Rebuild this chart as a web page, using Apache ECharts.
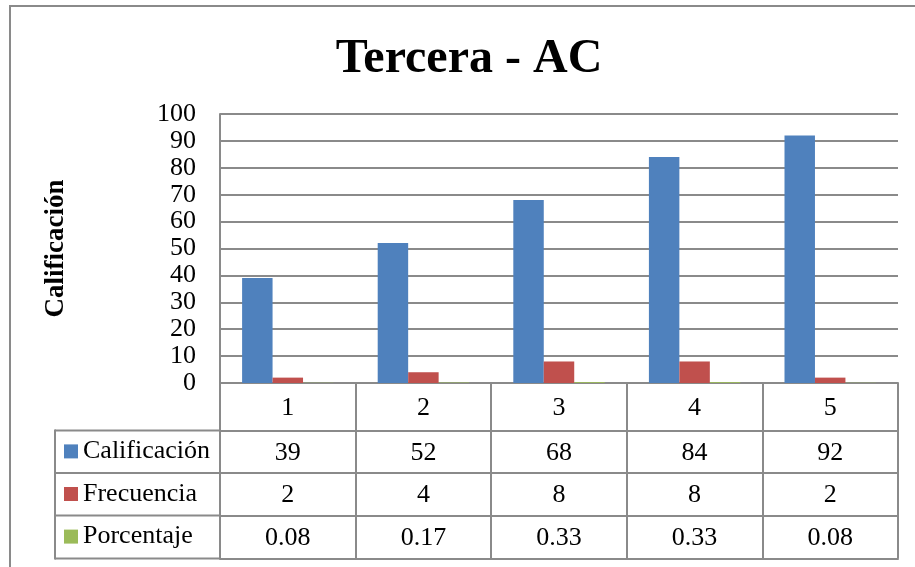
<!DOCTYPE html>
<html>
<head>
<meta charset="utf-8">
<title>Tercera - AC</title>
<script src="https://cdn.jsdelivr.net/npm/echarts@6/dist/echarts.min.js"></script>
<style>
  html, body { margin: 0; padding: 0; background: #ffffff; }
  #chart { width: 915px; height: 567px; }
</style>
</head>
<body>
<div id="chart"></div>
<script>
// Categories and series values
const categories = ['1', '2', '3', '4', '5'];
const calificacion = [39, 52, 68, 84, 92];
const frecuencia = [2, 4, 8, 8, 2];
const porcentaje = [0.08, 0.17, 0.33, 0.33, 0.08];
const seriesNames = ['Calificación', 'Frecuencia', 'Porcentaje'];

// Value axis range
const yMin = 0;
const yMax = 100;
const yStep = 10;

const FONT = 'Liberation Serif';
const GRAY = '#8a8a8a';
const COLORS = ['#4f81bd', '#c0504d', '#9bbb59'];

// Data-table geometry (below the plot area)
const gridLeft = 220, gridTop = 114, gridWidth = 678, gridHeight = 269;
const headerRow = 47.4;
const rowHeights = [42.6, 42.4, 43.0];
const tableLeft = 55;

const chart = echarts.init(document.getElementById('chart'), null, { renderer: 'canvas' });

// One category axis per data-table row: its line is the row's top border,
// its ticks the vertical cell borders and its labels the cell values.
function tableAxis(data, offset, rowH, showLabel) {
  return {
    type: 'category',
    position: 'bottom',
    gridIndex: 0,
    offset: offset,
    data: data,
    boundaryGap: true,
    axisLine: { show: true, onZero: false, lineStyle: { color: GRAY, width: 2 } },
    axisTick: { show: rowH > 0, interval: 0, length: rowH, inside: false,
                lineStyle: { color: GRAY, width: 2 } },
    axisLabel: { show: showLabel, interval: 0, margin: (rowH - 26) / 2 + 1,
                 fontFamily: FONT, fontSize: 26, color: '#000' },
    splitLine: { show: false }
  };
}

const offsets = [0];
offsets.push(headerRow);
offsets.push(headerRow + rowHeights[0]);
offsets.push(headerRow + rowHeights[0] + rowHeights[1]);
offsets.push(headerRow + rowHeights[0] + rowHeights[1] + rowHeights[2]);

const xAxes = [
  tableAxis(categories, offsets[0], headerRow, true),
  tableAxis(calificacion.map(String), offsets[1], rowHeights[0], true),
  tableAxis(frecuencia.map(String), offsets[2], rowHeights[1], true),
  tableAxis(porcentaje.map(String), offsets[3], rowHeights[2], true),
  tableAxis(categories.map(() => ''), offsets[4], 0, false)
];

// Left column of the data table (legend keys) borders
const tableTopY = gridTop + gridHeight + headerRow;
const leftLines = [];
for (let i = 1; i < offsets.length; i++) {
  const y = gridTop + gridHeight + offsets[i];
  leftLines.push({
    type: 'line',
    shape: { x1: tableLeft, y1: y, x2: gridLeft, y2: y },
    style: { stroke: GRAY, lineWidth: 2 }
  });
}
leftLines.push({
  type: 'line',
  shape: { x1: tableLeft, y1: tableTopY - 1, x2: tableLeft, y2: gridTop + gridHeight + offsets[4] + 1 },
  style: { stroke: GRAY, lineWidth: 2 }
});

// Chart-area frame (top and left edges)
const frame = [
  { type: 'line', shape: { x1: 10, y1: 6, x2: 915, y2: 6 }, style: { stroke: GRAY, lineWidth: 2 } },
  { type: 'line', shape: { x1: 10, y1: 5, x2: 10, y2: 567 }, style: { stroke: GRAY, lineWidth: 2 } }
];

const seriesData = [calificacion, frecuencia, porcentaje];

const option = {
  backgroundColor: '#ffffff',
  animation: false,
  color: COLORS,
  title: {
    text: 'Tercera - AC',
    left: 469,
    textAlign: 'center',
    top: 36,
    padding: 0,
    textStyle: { fontFamily: FONT, fontSize: 48, fontWeight: 'bold', color: '#000' }
  },
  legend: {
    orient: 'vertical',
    left: 64,
    top: tableTopY + 8,
    padding: 0,
    itemWidth: 14,
    itemHeight: 14,
    itemGap: 16.6,
    icon: 'rect',
    selectedMode: false,
    data: seriesNames,
    textStyle: { fontFamily: FONT, fontSize: 26, color: '#000', lineHeight: 26 }
  },
  grid: { left: gridLeft, top: gridTop, width: gridWidth, height: gridHeight, containLabel: false },
  xAxis: xAxes,
  yAxis: {
    type: 'value',
    min: yMin,
    max: yMax,
    interval: yStep,
    name: 'Calificación',
    nameLocation: 'middle',
    nameRotate: 90,
    nameGap: 150,
    nameTextStyle: { fontFamily: FONT, fontSize: 27, fontWeight: 'bold', color: '#000' },
    axisLine: { show: true, lineStyle: { color: GRAY, width: 2 } },
    axisTick: { show: false },
    axisLabel: { margin: 24, fontFamily: FONT, fontSize: 26, color: '#000' },
    splitLine: { show: true, lineStyle: { color: GRAY, width: 2 } }
  },
  graphic: frame.concat(leftLines),
  series: seriesNames.map((name, i) => ({
    name: name,
    type: 'bar',
    xAxisIndex: 0,
    data: seriesData[i],
    barGap: '0%',
    barCategoryGap: '32.6%',
    itemStyle: { color: COLORS[i] }
  }))
};

chart.setOption(option);
</script>
</body>
</html>
